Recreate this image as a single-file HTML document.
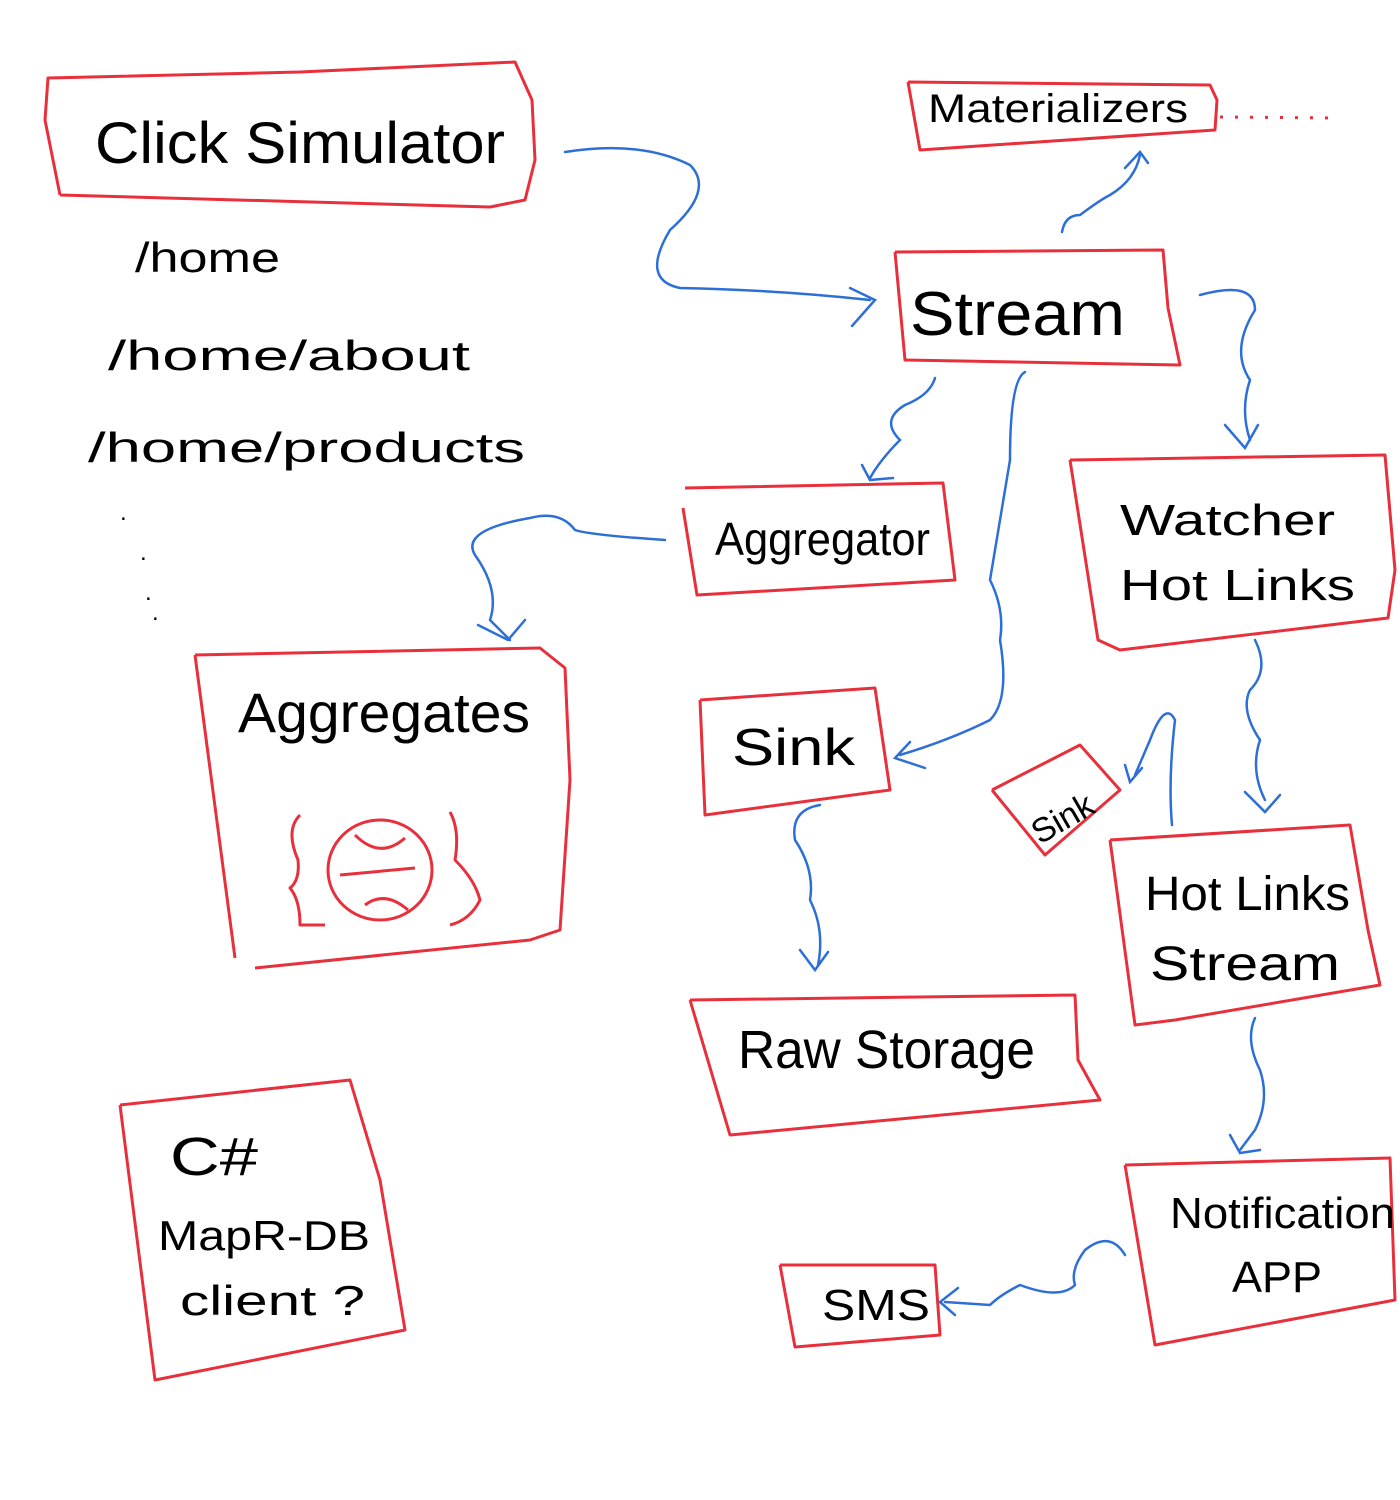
<!DOCTYPE html>
<html><head><meta charset="utf-8"><style>
html,body{margin:0;padding:0;background:#fff;}
svg{display:block;}
text{font-family:"Liberation Sans",sans-serif;fill:#000;}
</style></head><body>
<svg width="1400" height="1500" viewBox="0 0 1400 1500" xmlns="http://www.w3.org/2000/svg">
<g fill="none" stroke="#e8303c" stroke-width="3" stroke-linejoin="round">
<path d="M60,195 L45,120 L48,78 L300,72 L515,62 L532,100 L535,160 L525,200 L490,207 L60,195"/>
<path d="M908,82 L1210,85 L1217,100 L1215,130 L920,150 L908,82"/>
<path d="M1220,117 L1335,118" stroke-dasharray="3,12"/>
<path d="M895,252 L1163,250 L1168,308 L1180,365 L905,360 L895,252"/>
<path d="M685,488 L943,483 L955,580 L697,595 L683,508"/>
<path d="M1070,460 L1385,455 L1395,570 L1388,618 L1120,650 L1098,640 L1070,460"/>
<path d="M195,655 L540,648 L565,668 L570,780 L560,930 L530,940 L255,968 M235,958 L195,655"/>
<path d="M700,700 L875,688 L890,790 L705,815 L700,700"/>
<path d="M992,790 L1080,745 L1120,790 L1045,855 L992,790"/>
<path d="M1110,840 L1350,825 L1368,930 L1380,985 L1175,1020 L1135,1025 L1110,840"/>
<path d="M690,1000 L1075,995 L1078,1060 L1100,1100 L730,1135 L690,1000"/>
<path d="M120,1105 L350,1080 L380,1180 L405,1330 L155,1380 L120,1105"/>
<path d="M1125,1165 L1390,1158 L1395,1300 L1155,1345 L1125,1165"/>
<path d="M780,1265 L935,1265 L940,1335 L795,1347 L780,1265"/>
<path d="M300,815 Q285,830 298,860 Q300,880 290,888 Q300,900 300,925 L325,925"/>
<path d="M450,812 Q460,830 455,860 Q475,880 480,900 Q470,920 450,925"/>
<ellipse cx="380" cy="870" rx="52" ry="50"/>
<path d="M340,875 L415,868 M355,835 Q380,860 405,838 M365,905 Q385,890 408,910"/>
</g>
<g fill="none" stroke="#2d6fd6" stroke-width="2.5" stroke-linecap="round">
<path d="M565,152 Q640,140 690,165 Q715,190 670,230 Q640,280 680,288 Q780,290 870,300"/>
<path d="M850,288 L875,300 L852,326"/>
<path d="M1062,232 Q1065,215 1080,215 Q1100,200 1110,195 Q1135,180 1140,155"/>
<path d="M1125,168 L1140,152 L1148,163"/>
<path d="M935,378 Q930,395 905,405 Q880,420 900,440 Q880,460 870,478"/>
<path d="M862,465 L870,480 L893,478"/>
<path d="M1200,295 Q1255,280 1255,310 Q1230,350 1250,380 Q1240,410 1250,440"/>
<path d="M1225,425 L1245,448 L1258,425"/>
<path d="M665,540 Q590,535 575,530 Q560,510 530,518 Q460,530 475,555 Q500,590 490,620 Q500,630 510,640"/>
<path d="M478,625 L508,640 L525,620"/>
<path d="M1025,372 Q1010,380 1010,460 Q1000,520 990,580 Q1005,610 1000,640 Q1010,700 990,720 Q950,740 900,755"/>
<path d="M910,742 L895,758 L925,768"/>
<path d="M1255,640 Q1270,670 1250,690 Q1240,710 1260,740 Q1250,770 1265,800"/>
<path d="M1245,792 L1265,812 L1280,795"/>
<path d="M1172,825 Q1168,780 1175,720 Q1165,700 1150,740 L1135,775"/>
<path d="M1125,765 L1130,782 L1142,768"/>
<path d="M820,805 Q790,810 795,840 Q815,870 810,900 Q825,930 818,965"/>
<path d="M800,950 L815,970 L828,952"/>
<path d="M1255,1018 Q1245,1040 1260,1070 Q1270,1100 1255,1130 L1240,1150"/>
<path d="M1230,1135 L1240,1153 L1260,1150"/>
<path d="M1125,1255 Q1110,1230 1085,1250 Q1070,1270 1075,1285 Q1060,1300 1020,1285 Q1000,1295 990,1305 L945,1302"/>
<path d="M958,1288 L940,1302 L955,1315"/>
</g>
<g lengthAdjust="spacingAndGlyphs">
<text x="95" y="163" font-size="58" textLength="410" lengthAdjust="spacingAndGlyphs">Click Simulator</text>
<text x="135" y="272" font-size="42" textLength="145" lengthAdjust="spacingAndGlyphs">/home</text>
<text x="108" y="370" font-size="42" textLength="362" lengthAdjust="spacingAndGlyphs">/home/about</text>
<text x="88" y="462" font-size="42" textLength="437" lengthAdjust="spacingAndGlyphs">/home/products</text>
<text x="120" y="520" font-size="24">.</text>
<text x="140" y="560" font-size="24">.</text>
<text x="145" y="600" font-size="24">.</text>
<text x="152" y="620" font-size="24">.</text>
<text x="928" y="122" font-size="40" textLength="260" lengthAdjust="spacingAndGlyphs">Materializers</text>
<text x="910" y="335" font-size="62" textLength="215" lengthAdjust="spacingAndGlyphs">Stream</text>
<text x="715" y="555" font-size="46" textLength="215" lengthAdjust="spacingAndGlyphs">Aggregator</text>
<text x="1120" y="535" font-size="44" textLength="215" lengthAdjust="spacingAndGlyphs">Watcher</text>
<text x="1120" y="600" font-size="44" textLength="235" lengthAdjust="spacingAndGlyphs">Hot Links</text>
<text x="238" y="732" font-size="56" textLength="292" lengthAdjust="spacingAndGlyphs">Aggregates</text>
<text x="732" y="765" font-size="52" textLength="123" lengthAdjust="spacingAndGlyphs">Sink</text>
<text x="1025" y="830" font-size="34" transform="rotate(-30 1060 810)">Sink</text>
<text x="1145" y="910" font-size="48" textLength="205" lengthAdjust="spacingAndGlyphs">Hot Links</text>
<text x="1150" y="980" font-size="48" textLength="190" lengthAdjust="spacingAndGlyphs">Stream</text>
<text x="738" y="1068" font-size="54" textLength="297" lengthAdjust="spacingAndGlyphs">Raw Storage</text>
<text x="170" y="1175" font-size="54" textLength="88" lengthAdjust="spacingAndGlyphs">C#</text>
<text x="158" y="1250" font-size="42" textLength="212" lengthAdjust="spacingAndGlyphs">MapR-DB</text>
<text x="180" y="1315" font-size="42" textLength="185" lengthAdjust="spacingAndGlyphs">client ?</text>
<text x="1170" y="1228" font-size="44" textLength="225" lengthAdjust="spacingAndGlyphs">Notification</text>
<text x="1232" y="1292" font-size="44" textLength="90" lengthAdjust="spacingAndGlyphs">APP</text>
<text x="822" y="1320" font-size="44" textLength="108" lengthAdjust="spacingAndGlyphs">SMS</text>
</g>
</svg>
</body></html>
